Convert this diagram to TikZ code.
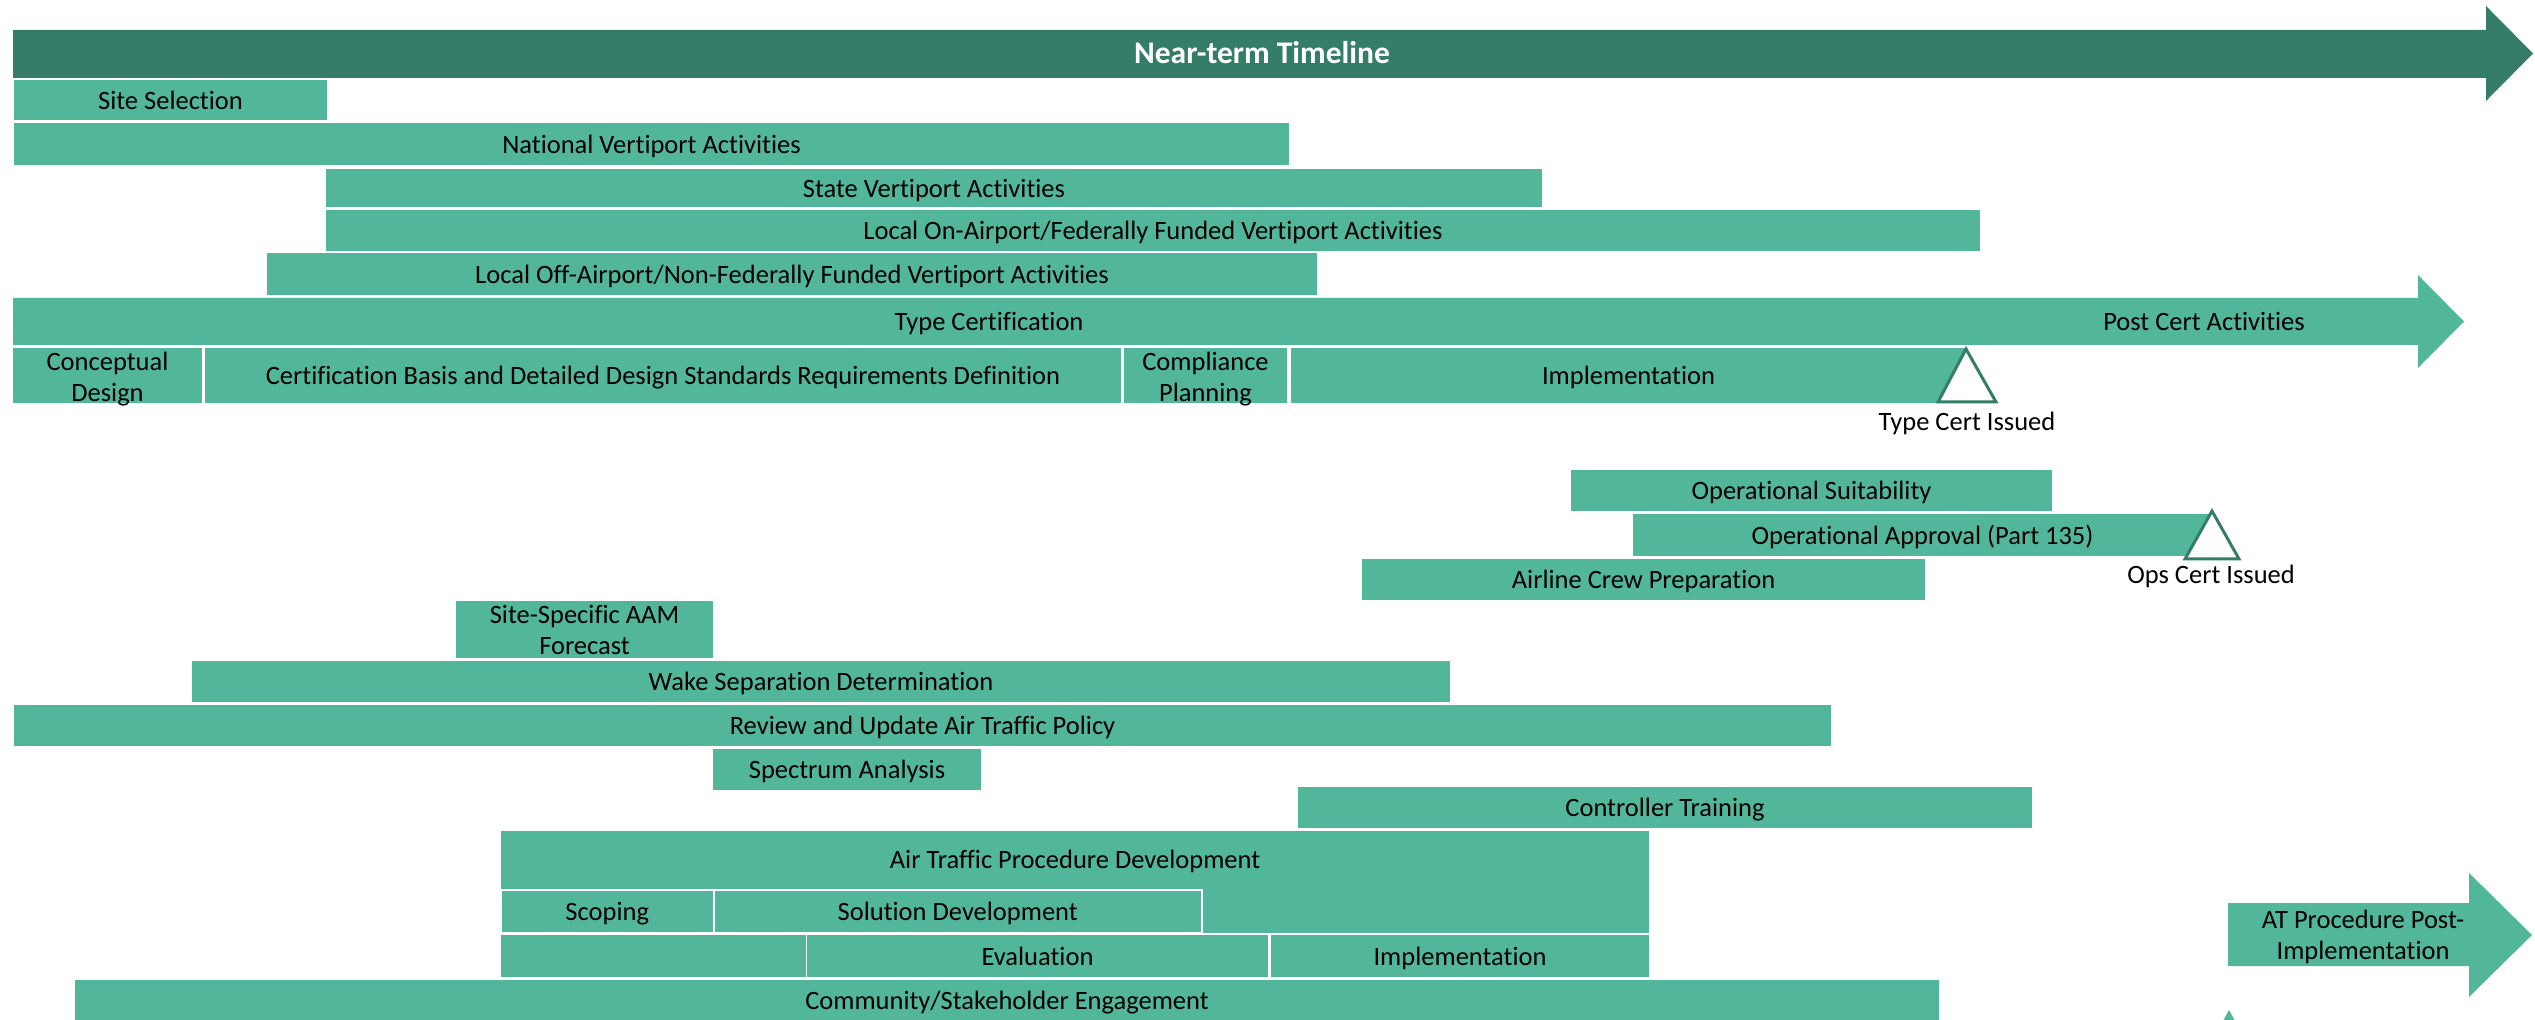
\documentclass[tikz,border=0pt]{standalone}
\usepackage{fontspec}
\setmainfont{Carlito}[Ligatures=NoCommon]
\definecolor{barg}{HTML}{52B69A}
\definecolor{darkg}{HTML}{357D69}
\newcommand{\taskbar}[6]{%
  \fill[barfill] (#2,#3) rectangle (#4,#5);
  \node[lbl] (#1) at ({(#2+#4)/2},{(#3+#5)/2}) {#6};}
\newcommand{\taskbarII}[7]{%
  \fill[barfill] (#2,#3) rectangle (#4,#5);
  \node[lbltwo,yshift=#7] (#1) at ({(#2+#4)/2},{(#3+#5)/2}) {#6};}
\newcommand{\subtask}[6]{%
  \filldraw[subfill] (#2,#3) rectangle (#4,#5);
  \node[lbl] (#1) at ({(#2+#4)/2},{(#3+#5)/2}) {#6};}
\begin{document}
\begin{tikzpicture}[x=0.5pt,y=-0.5pt,
  barfill/.style={fill=barg},
  subfill/.style={fill=barg,draw=white,line width=1pt},
  titlearrow/.style={fill=darkg},
  lbl/.style={font=\fontsize{13.25pt}{15.5pt}\selectfont,text=black,inner sep=0pt,text height=0.94em,text depth=0pt},
  lbltwo/.style={font=\fontsize{13.25pt}{15.5pt}\selectfont,text=black,inner sep=0pt,align=center},
  titlelbl/.style={font=\fontsize{15.75pt}{18pt}\selectfont\bfseries,text=white,inner sep=0pt,text height=0.9em,text depth=0pt},
  milestone/.style={fill=white,draw=darkg,line width=1.5pt,line join=miter}]
\useasboundingbox (0,0) rectangle (2535,1020);
\clip (0,0) rectangle (2535,1020);

% title arrow
\fill[titlearrow] (13,30) -- (2486,30) -- (2486,6) -- (2533,53.5) -- (2486,101) -- (2486,78) -- (13,78) -- cycle;
\node[titlelbl] (title) at (1262,55) {Near-term Timeline};

% vertiport rows
\taskbar{site}{14}{80}{327}{120}{Site Selection}
\taskbar{national}{14}{123}{1289}{165}{National Vertiport Activities}
\taskbar{state}{326}{169}{1542}{207}{State Vertiport Activities}
\taskbar{localon}{326}{210}{1980}{251}{Local On-Airport/Federally Funded Vertiport Activities}
\taskbar{localoff}{267}{253}{1317}{295}{Local Off-Airport/Non-Federally Funded Vertiport Activities}

% type certification arrow
\fill[barfill] (13,298) -- (2418,298) -- (2418,275) -- (2464,321.5) -- (2418,368) -- (2418,345) -- (13,345) -- cycle;
\node[lbl] (typecert) at (989,321.5) {Type Certification};
\node[lbl] (postcert) at (2204,321.5) {Post Cert Activities};

\taskbarII{concept}{13}{348}{202}{403}{Conceptual\\Design}{-1.6pt}
\taskbar{certbasis}{205}{348}{1121}{403}{Certification Basis and Detailed Design Standards Requirements Definition}
\taskbarII{compliance}{1124}{348}{1287}{403}{Compliance\\Planning}{-1.6pt}
\taskbar{tcimpl}{1291}{348}{1966}{403}{Implementation}
\filldraw[milestone] (1966,349) -- (1996,402) -- (1938,402) -- cycle;
\node[lbl,anchor=base] (tcissued) at (1967,431) {Type Cert Issued};

% operations
\taskbar{opsuit}{1571}{470}{2052}{511}{Operational Suitability}
\taskbar{opappr}{1633}{514}{2212}{556}{Operational Approval (Part 135)}
\filldraw[milestone] (2212,511) -- (2239,559) -- (2185,559) -- cycle;
\node[lbl,anchor=base] (opsissued) at (2211,584) {Ops Cert Issued};
\taskbar{crew}{1362}{559}{1925}{600}{Airline Crew Preparation}

% air traffic
\taskbarII{aamforecast}{456}{601}{713}{658}{Site-Specific AAM\\Forecast}{-0.3pt}
\taskbar{wake}{192}{661}{1450}{702}{Wake Separation Determination}
\taskbar{policy}{14}{705}{1831}{746}{Review and Update Air Traffic Policy}
\taskbar{spectrum}{713}{749}{981}{790}{Spectrum Analysis}
\taskbar{ctrl}{1298}{787}{2032}{828}{Controller Training}

\fill[barfill] (501,831) rectangle (1649,933);
\node[lbl] (atpd) at (1075,859.5) {Air Traffic Procedure Development};
\subtask{scoping}{501}{890}{713.5}{933}{Scoping}
\subtask{soldev}{713.5}{890}{1202}{933}{Solution Development}

\fill[barfill] (501,935) rectangle (806,977);
\taskbar{evaluation}{807}{935}{1268}{977}{Evaluation}
\taskbar{atimpl}{1271}{935}{1649}{977}{Implementation}
\taskbar{community}{75}{980}{1939}{1021}{Community/Stakeholder Engagement}

% AT procedure post-implementation arrow
\fill[barfill] (2228,903) -- (2469,903) -- (2469,873) -- (2532,935) -- (2469,997) -- (2469,966) -- (2228,966) -- cycle;
\node[lbltwo,yshift=-0.7pt] (atpost) at (2363,936) {AT Procedure Post-\\Implementation};
\fill[barfill] (2229,1010) -- (2258,1063) -- (2200,1063) -- cycle;
\end{tikzpicture}
\end{document}
